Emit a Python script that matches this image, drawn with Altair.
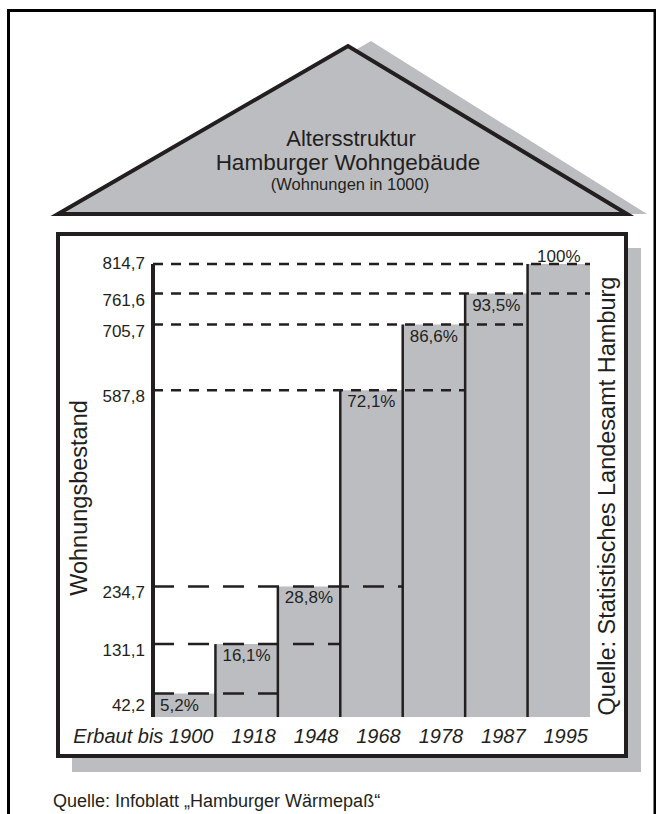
import altair as alt
import pandas as pd

# ---- data ----
jahre = ["Erbaut bis 1900", "1918", "1948", "1968", "1978", "1987", "1995"]
bestand = [42.2, 131.1, 234.7, 587.8, 705.7, 761.6, 814.7]
anteil = ["5,2%", "16,1%", "28,8%", "72,1%", "86,6%", "93,5%", "100%"]

titel_1 = "Altersstruktur"
titel_2 = "Hamburger Wohngebäude"
titel_3 = "(Wohnungen in 1000)"
y_titel = "Wohnungsbestand"
quelle_rechts = "Quelle: Statistisches Landesamt Hamburg"
quelle_unten = "Quelle: Infoblatt „Hamburger Wärmepaß“"

# roof outline (decoration, pixel space)
dach_x = [58, 348, 627]
dach_y = [214, 46, 214]
schatten_x = [70, 371, 647]
schatten_y = [214, 41, 214]

GRAY = "#bcbdc0"
INK = "#231f20"
FONT = "Liberation Sans"

df = pd.DataFrame({"idx": list(range(len(jahre))), "jahr": jahre, "wert": bestand, "anteil": anteil})

XS = alt.Scale(domain=[0, 7], range=[153, 590], nice=False, zero=False)
YS = alt.Scale(domain=[0, 814.7], range=[717, 264], nice=False, zero=False)
PX = alt.Scale(domain=[0, 656], range=[0, 656], nice=False, zero=False)
PY = alt.Scale(domain=[0, 814], range=[0, 814], nice=False, zero=False)

base = alt.Chart(df).transform_calculate(
    rechts="datum.idx + 1",
    mitte="datum.idx + 0.5",
    start="0",
    basis="0",
    strich_ende="min(datum.idx + 2, 7)",
    tick="replace(format(datum.wert, '.1f'), '.', ',')",
)

X = lambda f: alt.X(f, scale=XS, axis=None)
Y = lambda f: alt.Y(f, scale=YS, axis=None)

deco = alt.Chart(pd.DataFrame({"d": [0]}))

rahmen = deco.mark_rect(fill="white", stroke="black", strokeWidth=3).encode(
    x=alt.value(8.5), x2=alt.value(655), y=alt.value(10.5), y2=alt.value(840)
)

schatten_df = pd.DataFrame({"px": schatten_x, "py": schatten_y})
dach_df = pd.DataFrame({"px": dach_x, "py": dach_y})

def roof(d, **style):
    return alt.Chart(d).transform_calculate(fuss="214").mark_area(opacity=1, **style).encode(
        x=alt.X("px:Q", scale=PX, axis=None),
        y=alt.Y("py:Q", scale=PY, axis=None),
        y2="fuss:Q",
    )

dach_schatten = roof(schatten_df, fill=GRAY)
dach = roof(dach_df, fill=GRAY, stroke=INK, strokeWidth=4, strokeJoin="miter", strokeMiterLimit=10)

def txt(s, x, y, size, **kw):
    return deco.mark_text(font=FONT, fontSize=size, color=INK, **kw).encode(
        x=alt.value(x), y=alt.value(y), text=alt.value(s)
    )

t1 = txt(titel_1, 351, 146, 22, align="center", baseline="alphabetic")
t2 = txt(titel_2, 348, 170, 22.5, align="center", baseline="alphabetic")
t3 = txt(titel_3, 350, 190, 16.5, align="center", baseline="alphabetic")

box_schatten = deco.mark_rect(fill=GRAY).encode(
    x=alt.value(72), x2=alt.value(641), y=alt.value(248), y2=alt.value(772)
)
box = deco.mark_rect(fill="white", stroke=INK, strokeWidth=4).encode(
    x=alt.value(58), x2=alt.value(626), y=alt.value(234), y2=alt.value(756)
)

bars = base.mark_rect(fill=GRAY).encode(x=X("idx:Q"), x2="rechts:Q", y=Y("wert:Q"), y2="basis:Q")

dash_hi = base.transform_filter("datum.wert > 500").mark_rule(
    color=INK, strokeWidth=2.5, strokeDash=[10, 8]
).encode(x=X("start:Q"), x2="strich_ende:Q", y=Y("wert:Q"))
dash_lo = base.transform_filter("datum.wert < 500").mark_rule(
    color=INK, strokeWidth=2.5, strokeDash=[21, 14]
).encode(x=X("start:Q"), x2="strich_ende:Q", y=Y("wert:Q"))

trenner = base.transform_filter("datum.idx > 0").mark_rule(color=INK, strokeWidth=2.5).encode(
    x=X("idx:Q"), y=Y("wert:Q"), y2="basis:Q"
)
achse = base.transform_filter("datum.idx == 6").mark_rule(color=INK, strokeWidth=4).encode(
    x=X("start:Q"), y=Y("wert:Q"), y2="basis:Q"
)

tick_style = dict(font=FONT, fontSize=17, color=INK, align="right", baseline="middle")
ticks_mid = base.transform_filter("datum.idx > 0 && datum.idx < 6").mark_text(dy=7, **tick_style).encode(
    x=alt.value(145), y=Y("wert:Q"), text="tick:N"
)
ticks_top = base.transform_filter("datum.idx == 6").mark_text(dy=0, **tick_style).encode(
    x=alt.value(145), y=Y("wert:Q"), text="tick:N"
)
ticks_low = base.transform_filter("datum.idx == 0").mark_text(dy=12, **tick_style).encode(
    x=alt.value(145), y=Y("wert:Q"), text="tick:N"
)

pct = base.transform_filter("datum.idx < 6").mark_text(
    font=FONT, fontSize=17, color=INK, align="left", baseline="top", dx=7, dy=4
).encode(x=X("idx:Q"), y=Y("wert:Q"), text="anteil:N")
pct_last = base.transform_filter("datum.idx == 6").mark_text(
    font=FONT, fontSize=17, color=INK, align="center", baseline="alphabetic", dy=-2
).encode(x=X("mitte:Q"), y=Y("wert:Q"), text="anteil:N")

xlab = base.mark_text(
    font=FONT, fontSize=20, fontStyle="italic", color=INK, align="right", baseline="alphabetic", dx=-2
).encode(x=X("rechts:Q"), y=alt.value(743), text="jahr:N")

ytitle = txt(y_titel, 87, 498, 23.5, angle=270, align="center", baseline="alphabetic")
qr = txt(quelle_rechts, 615, 496, 23.5, angle=270, align="center", baseline="alphabetic")
qu = txt(quelle_unten, 53, 807, 18, align="left", baseline="alphabetic")

chart = alt.layer(
    rahmen, dach_schatten, dach, t1, t2, t3, box_schatten, box,
    bars, dash_hi, dash_lo, trenner, achse,
    ticks_mid, ticks_top, ticks_low, pct, pct_last, xlab, ytitle, qr, qu,
).resolve_scale(x="independent", y="independent").properties(
    width=656, height=814, padding=0, autosize=alt.AutoSizeParams(type="none"), background="white"
).configure_view(stroke=None)

chart.save("out.html", embed_options={"renderer": "svg", "actions": False})
